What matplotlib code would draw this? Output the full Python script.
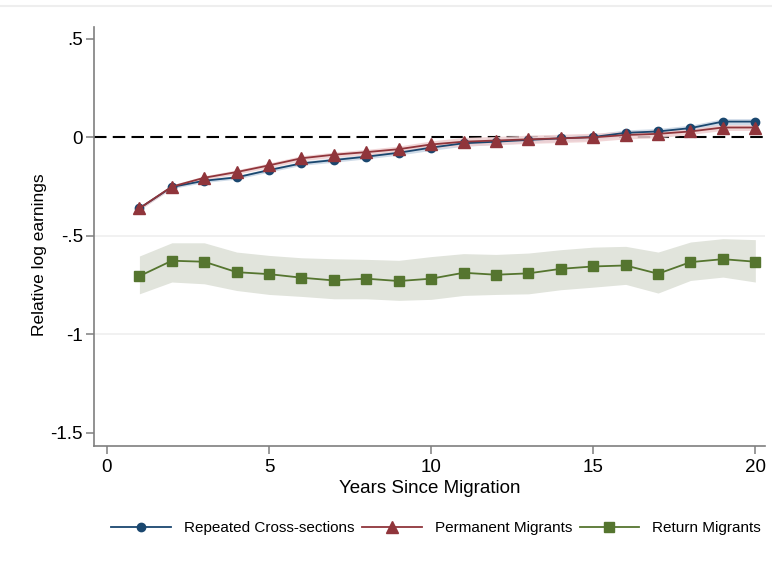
import numpy as np
import matplotlib.pyplot as plt
from matplotlib.lines import Line2D

plt.rcParams['font.family'] = ['Liberation Sans', 'DejaVu Sans']

# Jahre seit Migration
years = np.arange(1, 21)

# Repeated cross-sections (Punktschätzer)
cross_sec = [-0.360, -0.252, -0.220, -0.203, -0.166, -0.132, -0.115, -0.098, -0.078, -0.052,
             -0.030, -0.022, -0.013, -0.005, 0.002, 0.023, 0.030, 0.047, 0.080, 0.080]
# Permanent migrants
permanent = [-0.360, -0.250, -0.205, -0.176, -0.142, -0.106, -0.088, -0.075, -0.060, -0.036,
             -0.022, -0.016, -0.010, -0.005, 0.000, 0.012, 0.018, 0.030, 0.050, 0.050]
# Return migrants
return_mig = [-0.704, -0.626, -0.631, -0.684, -0.694, -0.712, -0.726, -0.717, -0.729, -0.717,
              -0.687, -0.697, -0.690, -0.667, -0.655, -0.650, -0.692, -0.633, -0.618, -0.631]

# Konfidenzbänder
cross_lo = [-0.368, -0.260, -0.229, -0.212, -0.176, -0.142, -0.126, -0.109, -0.090, -0.066,
            -0.045, -0.037, -0.028, -0.020, -0.013, 0.008, 0.015, 0.032, 0.065, 0.065]
cross_hi = [-0.352, -0.244, -0.211, -0.194, -0.156, -0.122, -0.104, -0.087, -0.066, -0.038,
            -0.015, -0.007, 0.002, 0.010, 0.017, 0.038, 0.045, 0.062, 0.095, 0.095]
perm_lo = [-0.369, -0.259, -0.215, -0.187, -0.154, -0.119, -0.101, -0.089, -0.076, -0.054,
           -0.044, -0.037, -0.031, -0.026, -0.021, -0.008, -0.002, 0.015, 0.035, 0.035]
perm_hi = [-0.351, -0.241, -0.195, -0.165, -0.130, -0.093, -0.075, -0.061, -0.044, -0.018,
           0.000, 0.005, 0.011, 0.016, 0.021, 0.032, 0.038, 0.045, 0.065, 0.065]
ret_lo = [-0.794, -0.734, -0.743, -0.777, -0.797, -0.807, -0.819, -0.819, -0.827, -0.822,
          -0.802, -0.797, -0.794, -0.773, -0.760, -0.746, -0.790, -0.726, -0.709, -0.734]
ret_hi = [-0.602, -0.535, -0.535, -0.582, -0.599, -0.611, -0.616, -0.619, -0.624, -0.605,
          -0.590, -0.594, -0.587, -0.570, -0.557, -0.553, -0.582, -0.531, -0.514, -0.519]

labels = ['Repeated Cross-sections', 'Permanent Migrants', 'Return Migrants']

navy = '#1a476f'
maroon = '#90353b'
forest = '#55752f'

fig = plt.figure(figsize=(7.72, 5.67), dpi=100)
ax = fig.add_axes([0.1218, 0.2134, 0.8692, 0.739])

# Gitterlinien und Nulllinie
for g in [-0.5, -1.0]:
    ax.axhline(g, color='#efefef', lw=1.2, zorder=0)
ax.axhline(0, color='black', lw=1.5, ls=(0, (6, 3)), zorder=1)

# Bänder
ax.fill_between(years, ret_lo, ret_hi, color='#e1e4dc', lw=0, zorder=2)
ax.fill_between(years, cross_lo, cross_hi, color='#cfdbe8', lw=0, zorder=2)
ax.fill_between(years, perm_lo, perm_hi, color='#efcfd1', alpha=0.85, lw=0, zorder=2)

# Linien mit Markern
ax.plot(years, cross_sec, color=navy, lw=1.3, marker='o', ms=6, zorder=3, label=labels[0])
ax.plot(years, permanent, color=maroon, lw=1.3, marker='^', ms=8, zorder=4, label=labels[1])
ax.plot(years, return_mig, color=forest, lw=1.3, marker='s', ms=6.5, zorder=3, label=labels[2])

ax.set_xlim(-0.4, 20.3)
ax.set_ylim(-1.566, 0.56)
ax.set_xticks([0, 5, 10, 15, 20])
ax.set_yticks([0.5, 0, -0.5, -1, -1.5])
ax.set_yticklabels(['.5', '0', '-.5', '-1', '-1.5'])

for s in ['top', 'right']:
    ax.spines[s].set_visible(False)
for s in ['left', 'bottom']:
    ax.spines[s].set_color('#7f7f7f')
    ax.spines[s].set_linewidth(1.2)
ax.tick_params(axis='both', colors='#7f7f7f', labelcolor='black', labelsize=13.5,
               length=6, width=1.1)
ax.tick_params(axis='y', pad=2)
ax.tick_params(axis='x', pad=3.5)

ax.set_xlabel('Years Since Migration', fontsize=13.5, labelpad=3)
ax.set_ylabel('Relative log earnings', fontsize=12.5)
ax.yaxis.set_label_coords(-0.070, 0.456)

fig.legend(loc='center', bbox_to_anchor=(0.565, 0.069), ncol=3, frameon=False,
           fontsize=11, handlelength=3.9, handletextpad=0.85, columnspacing=0.5)

# dünne Linie am oberen Rand
fig.add_artist(Line2D([0, 1], [0.989, 0.989], transform=fig.transFigure, color='#eeeeee', lw=1.5))

plt.savefig('out.png', dpi=100)
